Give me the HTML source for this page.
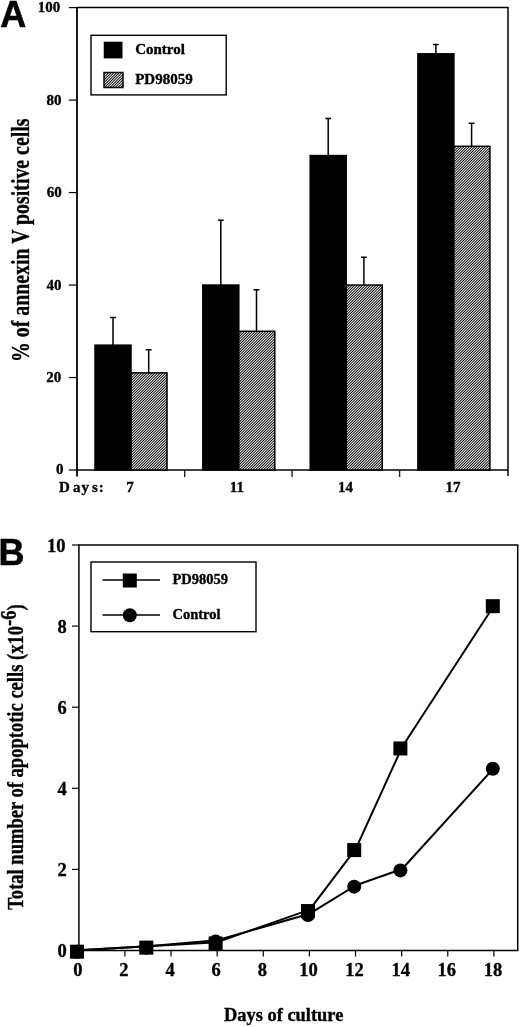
<!DOCTYPE html>
<html><head><meta charset="utf-8"><style>
html,body{margin:0;padding:0;background:#fff;}
svg{display:block;filter:grayscale(1);}
text{stroke:#000;stroke-width:0.35;stroke-linejoin:round;}
.pl{font-family:"Liberation Sans",sans-serif;font-weight:bold;font-size:36px;fill:#000;stroke:#000;stroke-width:0.6;stroke-linejoin:round;}
.ta{font-family:"Liberation Serif",serif;font-weight:bold;font-size:15px;fill:#000;}
.tb{font-family:"Liberation Serif",serif;font-weight:bold;font-size:18.5px;fill:#000;}
.ylA{font-family:"Liberation Serif",serif;font-weight:bold;font-size:25px;fill:#000;}
.ylB{font-family:"Liberation Serif",serif;font-weight:bold;font-size:22.5px;fill:#000;}
.xlB{font-family:"Liberation Serif",serif;font-weight:bold;font-size:19px;fill:#000;}
.ax{fill:none;stroke:#000;stroke-width:1.5;}
.tk{fill:none;stroke:#000;stroke-width:1.2;}
.eb{fill:none;stroke:#000;stroke-width:1.5;}
.lg{fill:none;stroke:#000;stroke-width:1.4;}
.ll{fill:none;stroke:#000;stroke-width:1.6;}
.dl{fill:none;stroke:#000;stroke-width:2;stroke-linejoin:round;}
</style></head><body>
<svg width="520" height="1027" viewBox="0 0 520 1027">
<defs>
<pattern id="hatch" patternUnits="userSpaceOnUse" x="0" y="0" width="8" height="8">
<rect width="8" height="8" fill="#fff"/>
<path d="M-3.000 -3 L-3 -3.000 L-3 -1.667 L-1.667 -3Z M-0.333 -3 L-3 -0.333 L-3 1.000 L1.000 -3Z M2.333 -3 L-3 2.333 L-3 3.667 L3.667 -3Z M5.000 -3 L-3 5.000 L-3 6.333 L6.333 -3Z M7.667 -3 L-3 7.667 L-3 9.000 L9.000 -3Z M10.333 -3 L-3 10.333 L-3 11.667 L11.667 -3Z M13.000 -3 L-3 13.000 L-3 14.333 L14.333 -3Z M15.667 -3 L-3 15.667 L-3 17.000 L17.000 -3Z M18.333 -3 L-3 18.333 L-3 19.667 L19.667 -3Z M21.000 -3 L-3 21.000 L-3 22.333 L22.333 -3Z M23.667 -3 L-3 23.667 L-3 25.000 L25.000 -3Z M26.333 -3 L-3 26.333 L-3 27.667 L27.667 -3Z" fill="#000"/>
</pattern>
</defs>
<rect width="520" height="1027" fill="#fff"/>
<g id="A">
<text x="0.2" y="26.8" class="pl">A</text>
<path d="M77 7.6 H508 V476" class="ax"/>
<path d="M77 7.6 V476.5" class="ax" style="stroke-width:1.8"/>
<path d="M77 470 H508" class="ax"/>
<path d="M68.8 470.00 H77" class="tk"/>
<path d="M68.8 377.52 H77" class="tk"/>
<path d="M68.8 285.04 H77" class="tk"/>
<path d="M68.8 192.56 H77" class="tk"/>
<path d="M68.8 100.08 H77" class="tk"/>
<path d="M68.8 7.60 H77" class="tk"/>
<text x="63.6" y="473.9" class="ta" text-anchor="end">0</text>
<text x="61.3" y="381.8" class="ta" text-anchor="end">20</text>
<text x="61.5" y="289.9" class="ta" text-anchor="end">40</text>
<text x="61.7" y="196.7" class="ta" text-anchor="end">60</text>
<text x="61.4" y="104.5" class="ta" text-anchor="end">80</text>
<text x="60.2" y="12.1" class="ta" text-anchor="end">100</text>
<path d="M184.7 470 V477" class="tk" style="stroke-width:1.4;stroke:#222"/>
<path d="M292.1 470 V477" class="tk" style="stroke-width:1.4;stroke:#222"/>
<path d="M399.6 470 V477" class="tk" style="stroke-width:1.4;stroke:#222"/>
<rect x="95.00" y="345.15" width="36" height="124.85" fill="#000" stroke="#000" stroke-width="1.5"/>
<rect x="131.00" y="372.90" width="36" height="97.10" fill="url(#hatch)" stroke="#000" stroke-width="1.5"/>
<path d="M113.00 345.15 V317.41 M110.10 317.41 H115.90" class="eb"/>
<path d="M148.70 372.90 V349.78 M145.80 349.78 H151.60" class="eb"/>
<rect x="202.80" y="285.04" width="36" height="184.96" fill="#000" stroke="#000" stroke-width="1.5"/>
<rect x="238.80" y="331.28" width="36" height="138.72" fill="url(#hatch)" stroke="#000" stroke-width="1.5"/>
<path d="M220.80 285.04 V220.30 M217.90 220.30 H223.70" class="eb"/>
<path d="M256.50 331.28 V289.66 M253.60 289.66 H259.40" class="eb"/>
<rect x="310.20" y="155.57" width="36" height="314.43" fill="#000" stroke="#000" stroke-width="1.5"/>
<rect x="346.20" y="285.04" width="36" height="184.96" fill="url(#hatch)" stroke="#000" stroke-width="1.5"/>
<path d="M328.20 155.57 V118.58 M325.30 118.58 H331.10" class="eb"/>
<path d="M363.90 285.04 V257.30 M361.00 257.30 H366.80" class="eb"/>
<rect x="417.90" y="53.84" width="36" height="416.16" fill="#000" stroke="#000" stroke-width="1.5"/>
<rect x="453.90" y="146.32" width="36" height="323.68" fill="url(#hatch)" stroke="#000" stroke-width="1.5"/>
<path d="M435.90 53.84 V44.59 M433.00 44.59 H438.80" class="eb"/>
<path d="M471.60 146.32 V123.20 M468.70 123.20 H474.50" class="eb"/>
<text y="491.9" class="ta"><tspan x="59">D</tspan><tspan x="73.1">a</tspan><tspan x="81.4">y</tspan><tspan x="92.1">s</tspan><tspan x="98.8">:</tspan></text>
<text x="129.9" y="491.9" class="ta" text-anchor="middle">7</text>
<text x="236.9" y="491.9" class="ta" text-anchor="middle">11</text>
<text x="345.6" y="491.9" class="ta" text-anchor="middle">14</text>
<text x="453.0" y="491.9" class="ta" text-anchor="middle">17</text>
<rect x="91" y="35.3" width="135.2" height="59.6" class="lg"/>
<rect x="103.75" y="41.7" width="18.75" height="16.7" fill="#000"/>
<rect x="104" y="72.5" width="19" height="15" fill="url(#hatch)" stroke="#000" stroke-width="1.5"/>
<text x="135.2" y="53.8" class="ta">Control</text>
<text x="135.2" y="84.2" class="ta">PD98059</text>
<text transform="translate(29,362) rotate(-90) scale(0.794,1)" class="ylA">% of annexin V positive cells</text>
</g>
<g id="B">
<text x="-1.6" y="564.6" class="pl">B</text>
<path d="M78.9 545 H517.7 V950.5 H78.9 Z" class="ax"/>
<path d="M72 950.50 H78.9" class="tk"/>
<path d="M72 869.40 H78.9" class="tk"/>
<path d="M72 788.30 H78.9" class="tk"/>
<path d="M72 707.20 H78.9" class="tk"/>
<path d="M72 626.10 H78.9" class="tk"/>
<path d="M72 545.00 H78.9" class="tk"/>
<text x="66.7" y="957.0" class="tb" text-anchor="end">0</text>
<text x="66.7" y="875.9" class="tb" text-anchor="end">2</text>
<text x="66.7" y="794.8" class="tb" text-anchor="end">4</text>
<text x="66.7" y="713.7" class="tb" text-anchor="end">6</text>
<text x="66.7" y="632.6" class="tb" text-anchor="end">8</text>
<text x="65.4" y="551.5" class="tb" text-anchor="end">10</text>
<path d="M78.80 950.5 V956.5" class="tk"/>
<text x="77.80" y="975.7" class="tb" text-anchor="middle">0</text>
<path d="M124.92 950.5 V956.5" class="tk"/>
<text x="123.92" y="975.7" class="tb" text-anchor="middle">2</text>
<path d="M171.04 950.5 V956.5" class="tk"/>
<text x="170.04" y="975.7" class="tb" text-anchor="middle">4</text>
<path d="M217.16 950.5 V956.5" class="tk"/>
<text x="216.16" y="975.7" class="tb" text-anchor="middle">6</text>
<path d="M263.28 950.5 V956.5" class="tk"/>
<text x="262.28" y="975.7" class="tb" text-anchor="middle">8</text>
<path d="M309.40 950.5 V956.5" class="tk"/>
<text x="308.40" y="975.7" class="tb" text-anchor="middle">10</text>
<path d="M355.52 950.5 V956.5" class="tk"/>
<text x="354.52" y="975.7" class="tb" text-anchor="middle">12</text>
<path d="M401.64 950.5 V956.5" class="tk"/>
<text x="400.64" y="975.7" class="tb" text-anchor="middle">14</text>
<path d="M447.76 950.5 V956.5" class="tk"/>
<text x="446.76" y="975.7" class="tb" text-anchor="middle">16</text>
<path d="M493.88 950.5 V956.5" class="tk"/>
<text x="492.88" y="975.7" class="tb" text-anchor="middle">18</text>
<polyline points="78.70,950.30 148.00,946.24 217.30,940.14 309.70,913.72 355.90,885.26 402.10,869.00 494.50,767.38" class="dl"/>
<polyline points="78.70,950.30 148.00,946.24 217.30,942.17 309.70,909.65 355.90,848.68 402.10,747.05 494.50,604.78" class="dl"/>
<circle cx="77.00" cy="951.70" r="7" fill="#000"/>
<circle cx="146.30" cy="947.63" r="7" fill="#000"/>
<circle cx="215.60" cy="941.54" r="7" fill="#000"/>
<circle cx="308.00" cy="915.12" r="7" fill="#000"/>
<circle cx="354.20" cy="886.66" r="7" fill="#000"/>
<circle cx="400.40" cy="870.40" r="7" fill="#000"/>
<circle cx="492.80" cy="768.78" r="7" fill="#000"/>
<rect x="70.00" y="944.70" width="14" height="14" fill="#000"/>
<rect x="139.30" y="940.63" width="14" height="14" fill="#000"/>
<rect x="208.60" y="936.57" width="14" height="14" fill="#000"/>
<rect x="301.00" y="904.05" width="14" height="14" fill="#000"/>
<rect x="347.20" y="843.08" width="14" height="14" fill="#000"/>
<rect x="393.40" y="741.45" width="14" height="14" fill="#000"/>
<rect x="485.80" y="599.18" width="14" height="14" fill="#000"/>
<rect x="91" y="562" width="165" height="69.7" class="lg"/>
<path d="M102.5 580 H160 M102.5 615 H160" class="ll"/>
<rect x="122.8" y="573.5" width="14" height="14" fill="#000"/>
<circle cx="129.8" cy="615.3" r="7" fill="#000"/>
<text x="172.5" y="583.8" class="ta" style="font-size:14.5px">PD98059</text>
<text x="172.5" y="618.8" class="ta" style="font-size:14.5px">Control</text>
<text transform="translate(23,909.8) rotate(-90) scale(0.8245,1)" class="ylB">Total number of apoptotic cells (x10<tspan dy="-7">-6</tspan><tspan dy="7">)</tspan></text>
<text transform="translate(224,1020.9) scale(0.97,1)" class="xlB">Days of culture</text>
</g>
</svg>
</body></html>
